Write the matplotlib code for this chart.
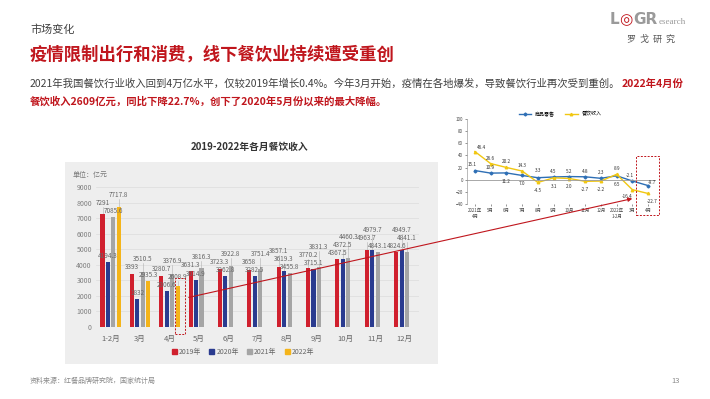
import matplotlib
matplotlib.use("Agg")
import matplotlib.pyplot as plt
from matplotlib.patches import Rectangle, FancyArrowPatch

plt.rcParams['font.family'] = ['Noto Sans CJK SC', 'DejaVu Sans']

# ---- data: monthly catering revenue (亿元) ----
months = ["1-2月", "3月", "4月", "5月", "6月", "7月", "8月", "9月", "10月", "11月", "12月"]
rev_2019 = [7291, 3393, 3280.7, 3631.3, 3723.3, 3658, 3857.1, 3770.2, 4367.5, 4963.7, 4824.6]
rev_2020 = [4194.3, 1832, 2306.6, 3014.9, 3262.8, 3282.5, 3619.3, 3715.1, 4372.5, 4979.7, 4949.7]
rev_2021 = [7085.6, 3510.5, 3376.9, 3816.3, 3922.8, 3751.4, 3455.8, 3831.3, 4460.3, 4843.1, 4841.1]
rev_2022 = [7717.8, 2935.3, 2608.9]
years = ["2019年", "2020年", "2021年", "2022年"]

# ---- data: inset, YoY growth (%) ----
inset_months = ["2021年\n4月", "5月", "6月", "7月", "8月", "9月", "10月", "11月", "12月",
                "2022年\n1-2月", "3月", "4月"]
retail_yoy = [15.1, 10.9, 11.2, 7.0, 3.3, 4.5, 5.2, 4.8, 2.3, 6.5, -2.1, -9.7]
catering_yoy = [46.4, 26.6, 20.2, 14.3, -4.5, 3.1, 2.0, -2.7, -2.2, 8.9, -16.4, -22.7]

W, H = 710, 399
RED = "#c0161d"
bar_colors = ["#d0202e", "#2a3b8f", "#a5a5a5", "#f4b41a"]


def rect(l, t, r, b):
    return [l / W, 1 - b / H, (r - l) / W, (b - t) / H]


def fx(x):
    return x / W


def fy(y):
    return 1 - y / H


fig = plt.figure(figsize=(7.1, 3.99), dpi=100)

# ---- header texts ----
fig.text(fx(30), fy(30), "市场变化", fontsize=8, color="#404040", va="center")
fig.text(fx(30), fy(55), "疫情限制出行和消费，线下餐饮业持续遭受重创", fontsize=12.5,
         color=RED, fontweight="bold", va="center")

renderer = fig.canvas.get_renderer()
t1 = fig.text(fx(30), fy(84), "2021年我国餐饮行业收入回到4万亿水平，仅较2019年增长0.4%。今年3月开始，"
              "疫情在各地爆发，导致餐饮行业再次受到重创。", fontsize=7.5, color="#404040", va="center")
bb = t1.get_window_extent(renderer)
fig.text(bb.x1 / fig.dpi / fig.get_figwidth() + 0.002, fy(84), "2022年4月份", fontsize=7.5,
         color=RED, fontweight="bold", va="center")
fig.text(fx(30), fy(101), "餐饮收入2609亿元，同比下降22.7%，创下了2020年5月份以来的最大降幅。",
         fontsize=7.5, color=RED, fontweight="bold", va="center")

# logo
fig.text(fx(610), fy(20), "L", fontsize=11, color="#9a9a9a", fontweight="bold", va="center",
         family="DejaVu Sans")
fig.text(fx(619), fy(20), "◎", fontsize=11, color=RED, fontweight="bold", va="center",
         family="DejaVu Sans")
fig.text(fx(633), fy(20), "GR", fontsize=11, color="#9a9a9a", fontweight="bold", va="center",
         family="DejaVu Sans")
fig.text(fx(659), fy(22), "esearch", fontsize=6.5, color="#9a9a9a", va="center",
         family="Liberation Serif")
fig.text(fx(651), fy(39), "罗  戈  研  究", fontsize=6.5, color="#555555", va="center", ha="center")

# footer
fig.text(fx(30), fy(381), "资料来源：红餐品牌研究院，国家统计局", fontsize=5, color="#8a8a8a", va="center")
fig.text(fx(680), fy(381), "13", fontsize=5.5, color="#8a8a8a", va="center", ha="right")

# ---- bar chart ----
fig.patches.append(Rectangle((fx(65), fy(364)), (438 - 65) / W, (364 - 162) / H,
                             transform=fig.transFigure, facecolor="#eeeeee",
                             edgecolor="none", zorder=-5))
fig.text(fx(250), fy(147), "2019-2022年各月餐饮收入", fontsize=7, fontweight="bold",
         color="#333333", ha="center", va="center")
fig.text(fx(73), fy(175), "单位：亿元", fontsize=5, color="#777777", va="center")

ax = fig.add_axes(rect(96, 187, 419, 327))
ax.set_zorder(2)
ax.set_facecolor("none")
series = [rev_2019, rev_2020, rev_2021, rev_2022]
slot = 0.185
bw = 0.14
label_items = {i: [] for i in range(len(months))}
for k, vals in enumerate(series):
    xs = [i + (k - 1.5) * slot for i in range(len(vals))]
    ax.bar(xs, vals, width=bw, color=bar_colors[k], label=years[k], zorder=3)
    for x, v, i in zip(xs, vals, range(len(vals))):
        label_items[i].append((v, x))

# value labels, stacked upwards inside each month so they do not collide
for i, items in label_items.items():
    prev = None
    for v, x in sorted(items):
        y = v + 120
        if prev is not None and y < prev + 520:
            y = prev + 520
        if y - v > 300:
            ax.plot([x, x], [v, y], color="#b0b0b0", lw=0.4, zorder=2, clip_on=False)
        ax.text(x, y, f"{v:g}", fontsize=4.6, color="#666666", ha="center", va="bottom",
                clip_on=False, zorder=4)
        prev = y

ax.set_xlim(-0.5, len(months) - 0.5)
ax.set_ylim(0, 9000)
ax.set_yticks(range(0, 9001, 1000))
ax.set_xticks(range(len(months)))
ax.set_xticklabels(months)
ax.tick_params(axis="y", labelsize=5, colors="#808080", length=0, pad=3)
ax.tick_params(axis="x", labelsize=5.5, colors="#666666", length=0, pad=6)
ax.grid(axis="y", color="#dcdcdc", lw=0.5, zorder=0)
for s in ax.spines.values():
    s.set_visible(False)
fig.legend(handles=[Rectangle((0, 0), 1, 1, color=c) for c in bar_colors], labels=years,
           loc="center", bbox_to_anchor=(fx(243), fy(352)), ncol=4, fontsize=5,
           frameon=False, handlelength=0.7, handleheight=0.7, handletextpad=0.3,
           columnspacing=1.2, labelcolor="#666666")

# small dashed box around April 2022 bar
fig.patches.append(Rectangle((fx(175), fy(334)), 10 / W, 56 / H, transform=fig.transFigure,
                             fill=False, edgecolor=RED, lw=0.7, ls=(0, (2, 1.5)), zorder=5))

# ---- inset line chart ----
ax2 = fig.add_axes(rect(467, 119, 656, 204))
xi = range(len(inset_months))
ax2.plot(xi, retail_yoy, color="#2e6fb5", lw=1.0, marker="D", ms=1.5, label="商品零售")
ax2.plot(xi, catering_yoy, color="#f1c712", lw=1.0, marker="^", ms=1.8, label="餐饮收入")
ax2.axhline(0, color="#9a9a9a", lw=0.6)
ax2.set_xlim(-0.5, len(inset_months) - 0.5)
ax2.set_ylim(-40, 100)
ax2.set_yticks(range(-40, 101, 20))
ax2.set_xticks(list(xi))
ax2.set_xticklabels(inset_months)
ax2.tick_params(labelsize=3.2, colors="#444444", length=1.2, width=0.4, pad=1.5)
for s in ["top", "right", "bottom"]:
    ax2.spines[s].set_visible(False)
ax2.spines["left"].set_linewidth(0.4)
ax2.spines["left"].set_color("#888888")

retail_off = [(-2, 4), (0, 4), (0, -6), (0, -6), (0, 5), (0, 4), (0, 4), (0, 4), (0, 4),
              (0, -6), (-2, 4), (3, 2)]
catering_off = [(5, 3), (0, 4), (0, 4), (0, 4), (0, -6), (0, -6), (0, -6), (0, -6), (0, -6),
                (0, 4), (-4, -5), (3, -6)]
for i in xi:
    ax2.annotate(f"{retail_yoy[i]:.1f}", (i, retail_yoy[i]), xytext=retail_off[i],
                 textcoords="offset points", fontsize=3.4, ha="center", va="center",
                 color="#333333")
    ax2.annotate(f"{catering_yoy[i]:.1f}", (i, catering_yoy[i]), xytext=catering_off[i],
                 textcoords="offset points", fontsize=3.4, ha="center", va="center",
                 color="#333333")
ax2.legend(loc="center", bbox_to_anchor=(fx(560), fy(114)), bbox_transform=fig.transFigure,
           ncol=2, fontsize=3.6, frameon=False, handlelength=2.5, columnspacing=2)

# dashed box in inset
fig.patches.append(Rectangle((fx(636), fy(215)), 23 / W, 59 / H, transform=fig.transFigure,
                             fill=False, edgecolor=RED, lw=0.7, ls=(0, (2, 1.5)), zorder=5))

# connecting arrow
fig.patches.append(FancyArrowPatch((fx(186), fy(298)), (fx(635), fy(198)),
                                   transform=fig.transFigure, arrowstyle="-|>",
                                   mutation_scale=6, color=RED, lw=0.8, zorder=6))

fig.savefig("out.png", dpi=100)
